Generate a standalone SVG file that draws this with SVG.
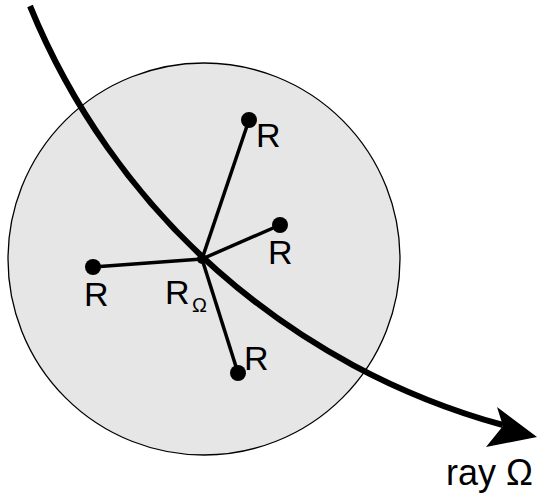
<svg xmlns="http://www.w3.org/2000/svg" width="538" height="498" viewBox="0 0 538 498">
<style>
text{font-family:"Liberation Sans",Arial,sans-serif;fill:#000}
.lbl{font-size:34px}
.spoke{stroke:#000;stroke-width:3.5;fill:none}
.dot{fill:#000}
</style>
<rect width="538" height="498" fill="#fff"/>
<g id="region">
<circle cx="204" cy="259" r="196" fill="#e6e6e6" stroke="#000" stroke-width="1.3"/>
</g>
<g id="connectors">
<line class="spoke" x1="202" y1="259" x2="249" y2="120"/>
<line class="spoke" x1="202" y1="259" x2="280" y2="225"/>
<line class="spoke" x1="202" y1="259" x2="93" y2="267"/>
<line class="spoke" x1="202" y1="259" x2="238" y2="373"/>
<path id="ray" d="M30,6 A714,714 0 0 0 503,425" fill="none" stroke="#000" stroke-width="6"/>
<polygon points="497,407 537,437 486,447 503,426" fill="#000"/>
</g>
<g id="node-center">
<circle class="dot" cx="202" cy="259" r="5"/>
<text class="lbl" x="165" y="304">R</text>
<text x="192" y="312" font-size="20">Ω</text>
</g>
<g id="node-top">
<circle class="dot" cx="249" cy="120" r="8"/>
<text class="lbl" x="256" y="147">R</text>
</g>
<g id="node-right">
<circle class="dot" cx="280" cy="225" r="8"/>
<text class="lbl" x="268" y="264">R</text>
</g>
<g id="node-left">
<circle class="dot" cx="93" cy="267" r="8"/>
<text class="lbl" x="84" y="306">R</text>
</g>
<g id="node-bottom">
<circle class="dot" cx="238" cy="373" r="8"/>
<text class="lbl" x="244" y="370">R</text>
</g>
<g id="label-ray">
<text x="446" y="485" font-size="36">ray Ω</text>
</g>
</svg>
